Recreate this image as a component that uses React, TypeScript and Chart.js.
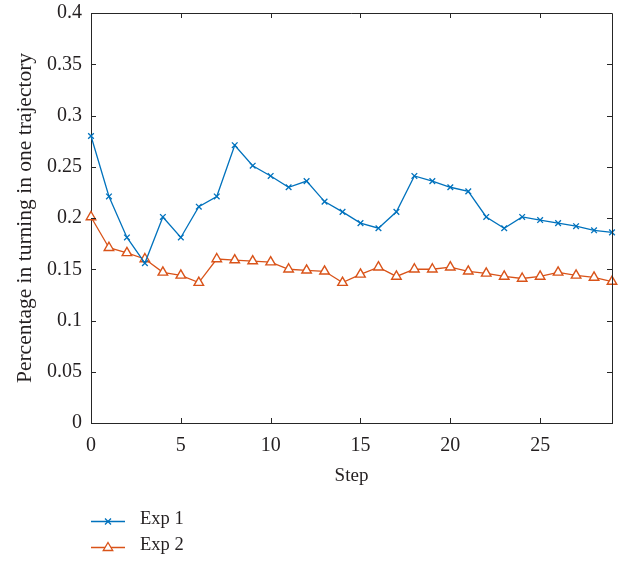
import React, { useEffect, useRef } from "react";
import { Chart, registerables } from "chart.js";

Chart.register(...registerables);

const steps = [0,1,2,3,4,5,6,7,8,9,10,11,12,13,14,15,16,17,18,19,20,21,22,23,24,25,26,27,28,29];
const exp1 = [0.28,0.221,0.181,0.156,0.201,0.181,0.211,0.221,0.271,0.251,0.241,0.230,0.236,0.216,0.206,0.195,0.190,0.206,0.241,0.236,0.230,0.226,0.201,0.190,0.201,0.198,0.195,0.192,0.188,0.186];
const exp2 = [0.201,0.171,0.166,0.160,0.147,0.144,0.137,0.160,0.159,0.158,0.157,0.150,0.149,0.148,0.137,0.145,0.152,0.143,0.150,0.150,0.152,0.148,0.146,0.143,0.141,0.143,0.147,0.144,0.142,0.138];
const seriesNames = ["Exp 1", "Exp 2"];
const xTicks = [0, 5, 10, 15, 20, 25];
const yTicks = [0, 0.05, 0.1, 0.15, 0.2, 0.25, 0.3, 0.35, 0.4];

const BLUE = "#0072BD";
const ORANGE = "#D95319";
const TEXT = "#231F20";
const FONT = "'Liberation Serif', 'Times New Roman', serif";

const frameTicks = {
  id: "frameTicks",
  afterDatasetsDraw(chart: any) {
    const { ctx, chartArea: a, scales } = chart;
    ctx.save();
    ctx.strokeStyle = "#262626";
    ctx.lineWidth = 1;
    ctx.beginPath();
    ctx.moveTo(a.left, a.top + 0.5);
    ctx.lineTo(a.right + 0.5, a.top + 0.5);
    ctx.lineTo(a.right + 0.5, a.bottom);
    const L = 5;
    for (const v of xTicks) {
      const x = Math.round(scales.x.getPixelForValue(v)) + 0.5;
      ctx.moveTo(x, a.bottom);
      ctx.lineTo(x, a.bottom - L);
      ctx.moveTo(x, a.top);
      ctx.lineTo(x, a.top + L);
    }
    for (const v of yTicks) {
      const y = Math.round(scales.y.getPixelForValue(v)) + 0.5;
      ctx.moveTo(a.left, y);
      ctx.lineTo(a.left + L, y);
      ctx.moveTo(a.right, y);
      ctx.lineTo(a.right - L, y);
    }
    ctx.stroke();
    ctx.restore();
  },
};

const legendPlugin = {
  id: "customLegend",
  afterDraw(chart: any) {
    const { ctx } = chart;
    const items = [
      { name: seriesNames[0], color: BLUE, y: 521.5, marker: "x" },
      { name: seriesNames[1], color: ORANGE, y: 547.5, marker: "t" },
    ];
    ctx.save();
    for (const it of items) {
      ctx.strokeStyle = it.color;
      ctx.lineWidth = 1.3;
      ctx.beginPath();
      ctx.moveTo(91, it.y);
      ctx.lineTo(125, it.y);
      ctx.stroke();
      const cx = 108;
      ctx.beginPath();
      if (it.marker === "x") {
        const r = 3;
        ctx.moveTo(cx - r, it.y - r);
        ctx.lineTo(cx + r, it.y + r);
        ctx.moveTo(cx - r, it.y + r);
        ctx.lineTo(cx + r, it.y - r);
      } else {
        const r = 5;
        ctx.moveTo(cx, it.y - r);
        ctx.lineTo(cx + r * 0.95, it.y + r * 0.6);
        ctx.lineTo(cx - r * 0.95, it.y + r * 0.6);
        ctx.closePath();
        ctx.fillStyle = "#fff";
        ctx.fill();
      }
      ctx.stroke();
      ctx.fillStyle = TEXT;
      ctx.font = `18.5px ${FONT}`;
      ctx.textBaseline = "middle";
      ctx.textAlign = "left";
      ctx.fillText(it.name, 140, it.y - 2);
    }
    ctx.restore();
  },
};

export default function App() {
  const ref = useRef<HTMLCanvasElement>(null);
  useEffect(() => {
    if (!ref.current) return;
    const chart = new Chart(ref.current, {
      type: "line",
      data: {
        datasets: [
          {
            label: seriesNames[0],
            data: steps.map((s, i) => ({ x: s, y: exp1[i] })),
            borderColor: BLUE,
            backgroundColor: "rgba(0,0,0,0)",
            borderWidth: 1.3,
            pointStyle: "crossRot",
            pointRadius: 4,
            pointBorderWidth: 1.3,
            pointBorderColor: BLUE,
            tension: 0,
            clip: false,
          },
          {
            label: seriesNames[1],
            data: steps.map((s, i) => ({ x: s, y: exp2[i] })),
            borderColor: ORANGE,
            backgroundColor: "rgba(0,0,0,0)",
            borderWidth: 1.3,
            pointStyle: "triangle",
            pointRadius: 5.5,
            pointBorderWidth: 1.4,
            pointBorderColor: ORANGE,
            pointBackgroundColor: "#fff",
            tension: 0,
            clip: false,
          },
        ],
      },
      options: {
        animation: false,
        responsive: false,
        devicePixelRatio: 1,
        layout: { padding: { top: 13, right: 11, left: 0, bottom: 0 } },
        plugins: { legend: { display: false }, tooltip: { enabled: false } },
        scales: {
          x: {
            type: "linear",
            min: 0,
            max: 29,
            afterFit: (s: any) => { s.height = 140; s.paddingLeft = 0; s.paddingRight = 0; },
            grid: { display: false, drawTicks: false },
            border: { display: true, color: "#262626", width: 1 },
            ticks: {
              stepSize: 5,
              includeBounds: false,
              autoSkip: false,
              maxRotation: 0,
              padding: 11,
              color: TEXT,
              font: { family: FONT, size: 20 },
            },
            title: {
              display: true,
              text: "Step",
              color: TEXT,
              font: { family: FONT, size: 19 },
              padding: { top: 0, bottom: 76 },
            },
          },
          y: {
            min: 0,
            max: 0.4,
            afterFit: (s: any) => { s.width = 91; s.paddingTop = 0; s.paddingBottom = 0; },
            grid: { display: false, drawTicks: false },
            border: { display: true, color: "#262626", width: 1 },
            ticks: {
              stepSize: 0.05,
              padding: 9,
              color: TEXT,
              font: { family: FONT, size: 20 },
              callback: (v: any) => String(+Number(v).toFixed(2)),
            },
            title: {
              display: true,
              text: "Percentage in turning in one trajectory",
              color: TEXT,
              font: { family: FONT, size: 21.5 },
              padding: { top: 12, bottom: 0 },
            },
          },
        },
      },
      plugins: [frameTicks, legendPlugin],
    });
    return () => chart.destroy();
  }, []);
  return (
    <div style={{ position: "absolute", left: 0, top: 0, width: 623, height: 563, background: "#fff" }}>
      <canvas ref={ref} width={623} height={563} style={{ display: "block", width: 623, height: 563 }} />
    </div>
  );
}
